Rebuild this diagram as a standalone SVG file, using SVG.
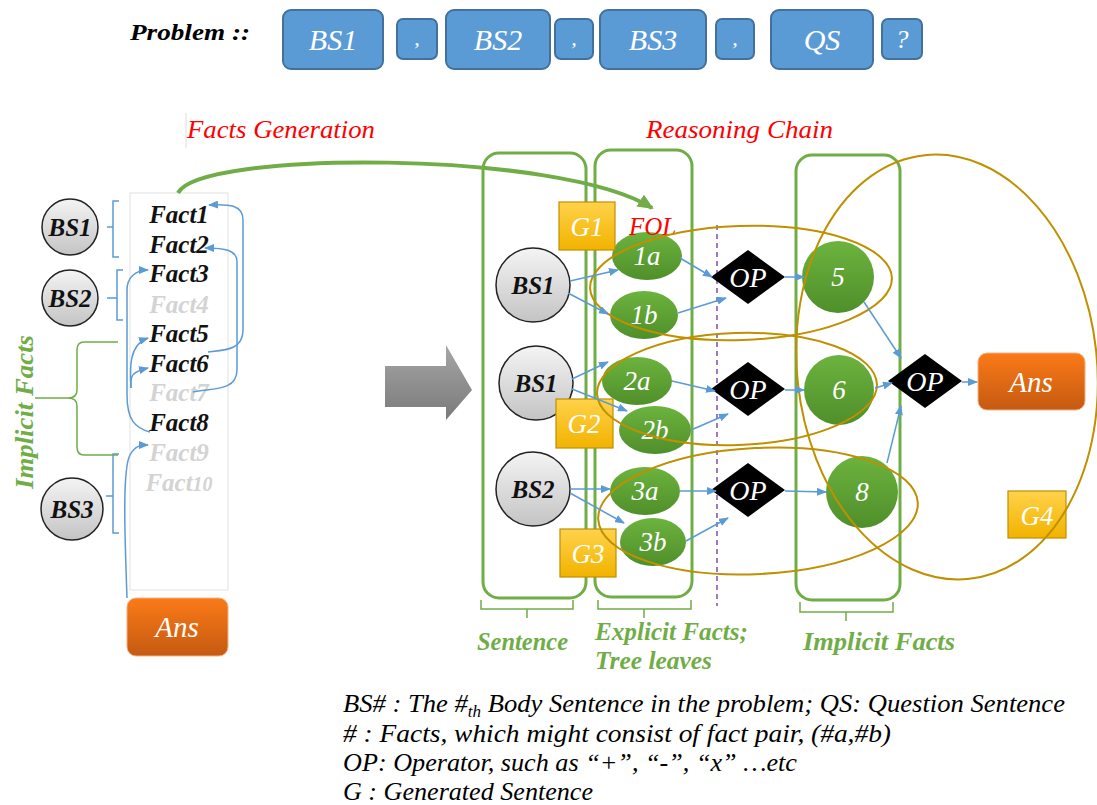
<svg xmlns="http://www.w3.org/2000/svg" width="1097" height="805" viewBox="0 0 1097 805">
<defs>
<linearGradient id="gGray" x1="0" y1="0" x2="0" y2="1"><stop offset="0" stop-color="#f4f4f4"/><stop offset="1" stop-color="#c4c4c4"/></linearGradient>
<linearGradient id="gGreen" x1="0" y1="0" x2="0" y2="1"><stop offset="0" stop-color="#6cb33e"/><stop offset="1" stop-color="#4f8f2a"/></linearGradient>
<linearGradient id="gOrange" x1="0" y1="0" x2="0" y2="1"><stop offset="0" stop-color="#fb7a18"/><stop offset="1" stop-color="#c55a11"/></linearGradient>
<linearGradient id="gYellow" x1="0" y1="0" x2="0" y2="1"><stop offset="0" stop-color="#ffd24a"/><stop offset="1" stop-color="#f2b300"/></linearGradient>
<linearGradient id="gArrow" x1="0" y1="0" x2="0" y2="1"><stop offset="0" stop-color="#a6a6a6"/><stop offset="1" stop-color="#7a7a7a"/></linearGradient>
<marker id="ab" markerWidth="10" markerHeight="8" refX="9" refY="4" orient="auto" markerUnits="userSpaceOnUse"><path d="M0,0 L10,4 L0,8 Z" fill="#5b9bd5"/></marker>
<marker id="ag" markerWidth="16" markerHeight="14" refX="14" refY="7" orient="auto" markerUnits="userSpaceOnUse"><path d="M0,0 L16,7 L0,14 Z" fill="#70ad47"/></marker>
</defs>
<rect width="1097" height="805" fill="#fff"/>

<g id="problem">
<text x="130" y="40" font-family="Liberation Serif" font-style="italic" font-weight="bold" font-size="23" fill="#000" textLength="120" lengthAdjust="spacingAndGlyphs">Problem ::</text>
<g fill="#5b9bd5" stroke="#41719c" stroke-width="2">
<rect x="283" y="10" width="100" height="59" rx="8"/>
<rect x="397" y="19" width="40" height="40" rx="6"/>
<rect x="446" y="10" width="104" height="59" rx="8"/>
<rect x="555" y="19" width="38" height="40" rx="6"/>
<rect x="600" y="10" width="106" height="59" rx="8"/>
<rect x="716" y="19" width="38" height="40" rx="6"/>
<rect x="771" y="10" width="102" height="59" rx="8"/>
<rect x="882" y="19" width="40" height="40" rx="6"/>
</g>
<g fill="#fff" font-size="30" text-anchor="middle">
<text font-family="Liberation Serif" font-style="italic" x="333" y="50">BS1</text>
<text font-family="Liberation Serif" font-style="italic" x="417" y="45" font-size="22">,</text>
<text font-family="Liberation Serif" font-style="italic" x="498" y="50">BS2</text>
<text font-family="Liberation Serif" font-style="italic" x="574" y="45" font-size="22">,</text>
<text font-family="Liberation Serif" font-style="italic" x="653" y="50">BS3</text>
<text font-family="Liberation Serif" font-style="italic" x="735" y="45" font-size="22">,</text>
<text font-family="Liberation Serif" font-style="italic" x="822" y="50">QS</text>
<text font-family="Liberation Serif" font-style="italic" x="902" y="48" font-size="26">?</text>
</g>
</g>

<g id="titles" fill="#ff0000" font-size="25">
<line x1="186" y1="113" x2="186" y2="148" stroke="#ddd" stroke-width="1"/>
<text font-family="Liberation Serif" font-style="italic" x="187" y="138" textLength="188" lengthAdjust="spacingAndGlyphs">Facts Generation</text>
<text font-family="Liberation Serif" font-style="italic" x="646" y="138" textLength="187" lengthAdjust="spacingAndGlyphs">Reasoning Chain</text>
</g>

<g id="left-brackets" fill="none" stroke-width="1.5">
<path stroke="#5b9bd5" d="M119,201 H113 V257 H119 M113,227 H107"/>
<path stroke="#5b9bd5" d="M123,270 H117 V320 H123 M117,298 H107"/>
<path stroke="#5b9bd5" d="M119,454 H113 V533 H119 M113,496 H106"/>
<path stroke="#70ad47" d="M118,342 H84 Q77,342 77,350 V390 Q77,398 68,398 H35 M68,398 Q77,398 77,406 V447 Q77,455 84,455 H118"/>
</g>
<text font-family="Liberation Serif" font-style="italic" font-weight="bold" font-size="25" fill="#70ad47" transform="translate(33,412) rotate(-90)" text-anchor="middle" textLength="154" lengthAdjust="spacingAndGlyphs">Implicit Facts</text>

<g id="bs1-left"><circle cx="70" cy="227" r="28" fill="url(#gGray)" stroke="#222" stroke-width="1.5"/><text font-family="Liberation Serif" font-style="italic" font-weight="bold" font-size="25" text-anchor="middle" fill="#111" x="70" y="236">BS1</text></g>
<g id="bs2-left"><circle cx="70" cy="298" r="28" fill="url(#gGray)" stroke="#222" stroke-width="1.5"/><text font-family="Liberation Serif" font-style="italic" font-weight="bold" font-size="25" text-anchor="middle" fill="#111" x="70" y="307">BS2</text></g>
<g id="bs3-left"><circle cx="72" cy="509" r="31" fill="url(#gGray)" stroke="#222" stroke-width="1.5"/><text font-family="Liberation Serif" font-style="italic" font-weight="bold" font-size="25" text-anchor="middle" fill="#111" x="72" y="518">BS3</text></g>

<g id="facts" font-size="25" font-weight="bold" text-anchor="middle">
<rect x="130" y="193" width="98" height="397" fill="none" stroke="#e2e2e2" stroke-width="1"/>
<text font-family="Liberation Serif" font-style="italic" fill="#111" x="179" y="223">Fact1</text>
<text font-family="Liberation Serif" font-style="italic" fill="#111" x="179" y="253">Fact2</text>
<text font-family="Liberation Serif" font-style="italic" fill="#111" x="179" y="282">Fact3</text>
<text font-family="Liberation Serif" font-style="italic" fill="#d3d3d3" x="179" y="313">Fact4</text>
<text font-family="Liberation Serif" font-style="italic" fill="#111" x="179" y="342">Fact5</text>
<text font-family="Liberation Serif" font-style="italic" fill="#111" x="179" y="372">Fact6</text>
<text font-family="Liberation Serif" font-style="italic" fill="#d3d3d3" x="179" y="401">Fact7</text>
<text font-family="Liberation Serif" font-style="italic" fill="#111" x="179" y="431">Fact8</text>
<text font-family="Liberation Serif" font-style="italic" fill="#d3d3d3" x="179" y="461">Fact9</text>
<text font-family="Liberation Serif" font-style="italic" fill="#d3d3d3" x="179" y="491">Fact<tspan font-size="20">10</tspan></text>
</g>
<g id="ans-left"><rect x="127" y="598" width="101" height="58" rx="9" fill="url(#gOrange)" stroke="#f4b183" stroke-width="1"/><text font-family="Liberation Serif" font-style="italic" font-size="29" fill="#fff" text-anchor="middle" x="177" y="637">Ans</text></g>

<g id="columns">
<g fill="none" stroke="#70ad47" stroke-width="3">
<rect x="483" y="153" width="103" height="445" rx="16"/>
<rect x="595" y="150" width="97" height="447" rx="16"/>
<rect x="796" y="155" width="104" height="445" rx="16"/>
</g>
<g fill="none" stroke="#70ad47" stroke-width="1.5">
<path d="M481,600 V609 H527 V618 M527,609 H573 V600"/>
<path d="M598,600 V609 H644 V618 M644,609 H691 V600"/>
<path d="M800,602 V612 H846 V621 M846,612 H893 V602"/>
</g>
<g fill="#70ad47" font-size="25" font-weight="bold">
<text font-family="Liberation Serif" font-style="italic" x="477" y="650" textLength="91" lengthAdjust="spacingAndGlyphs">Sentence</text>
<text font-family="Liberation Serif" font-style="italic" x="595" y="640" textLength="153" lengthAdjust="spacingAndGlyphs">Explicit Facts;</text>
<text font-family="Liberation Serif" font-style="italic" x="595" y="669" textLength="117" lengthAdjust="spacingAndGlyphs">Tree leaves</text>
<text font-family="Liberation Serif" font-style="italic" x="803" y="650" textLength="152" lengthAdjust="spacingAndGlyphs">Implicit Facts</text>
</g>
<line x1="717" y1="225" x2="717" y2="606" stroke="#7030a0" stroke-width="1.3" stroke-dasharray="5,4"/>
</g>

<g id="bs1-a"><circle cx="533" cy="285" r="37" fill="url(#gGray)" stroke="#222" stroke-width="1.5"/><text font-family="Liberation Serif" font-style="italic" font-weight="bold" font-size="25" text-anchor="middle" fill="#111" x="533" y="294">BS1</text></g>
<g id="bs1-b"><circle cx="536" cy="383" r="37" fill="url(#gGray)" stroke="#222" stroke-width="1.5"/><text font-family="Liberation Serif" font-style="italic" font-weight="bold" font-size="25" text-anchor="middle" fill="#111" x="536" y="392">BS1</text></g>
<g id="bs2-r"><circle cx="533" cy="489" r="37" fill="url(#gGray)" stroke="#222" stroke-width="1.5"/><text font-family="Liberation Serif" font-style="italic" font-weight="bold" font-size="25" text-anchor="middle" fill="#111" x="533" y="498">BS2</text></g>

<g id="n1a"><ellipse cx="647" cy="256" rx="35" ry="24" fill="url(#gGreen)"/><text font-family="Liberation Serif" font-style="italic" font-size="27" fill="#fff" text-anchor="middle" x="647" y="265">1a</text></g>
<g id="n1b"><ellipse cx="644" cy="315" rx="34" ry="24" fill="url(#gGreen)"/><text font-family="Liberation Serif" font-style="italic" font-size="27" fill="#fff" text-anchor="middle" x="644" y="324">1b</text></g>
<g id="n2a"><ellipse cx="637" cy="381" rx="35" ry="24" fill="url(#gGreen)"/><text font-family="Liberation Serif" font-style="italic" font-size="27" fill="#fff" text-anchor="middle" x="637" y="390">2a</text></g>
<g id="n2b"><ellipse cx="655" cy="430" rx="36" ry="24" fill="url(#gGreen)"/><text font-family="Liberation Serif" font-style="italic" font-size="27" fill="#fff" text-anchor="middle" x="655" y="439">2b</text></g>
<g id="n3a"><ellipse cx="645" cy="491" rx="35" ry="24" fill="url(#gGreen)"/><text font-family="Liberation Serif" font-style="italic" font-size="27" fill="#fff" text-anchor="middle" x="645" y="500">3a</text></g>
<g id="n3b"><ellipse cx="653" cy="542" rx="33" ry="24" fill="url(#gGreen)"/><text font-family="Liberation Serif" font-style="italic" font-size="27" fill="#fff" text-anchor="middle" x="653" y="551">3b</text></g>

<g id="n5"><circle cx="838" cy="277" r="36" fill="url(#gGreen)"/><text font-family="Liberation Serif" font-style="italic" font-size="27" fill="#fff" text-anchor="middle" x="838" y="286">5</text></g>
<g id="n6"><circle cx="839" cy="390" r="35" fill="url(#gGreen)"/><text font-family="Liberation Serif" font-style="italic" font-size="27" fill="#fff" text-anchor="middle" x="839" y="399">6</text></g>
<g id="n8"><circle cx="862" cy="492" r="36" fill="url(#gGreen)"/><text font-family="Liberation Serif" font-style="italic" font-size="27" fill="#fff" text-anchor="middle" x="862" y="501">8</text></g>

<g id="op1"><path fill="#000" d="M748,250 L785,277 L748,304 L711,277 Z"/><text font-family="Liberation Serif" font-style="italic" font-size="28" fill="#fff" text-anchor="middle" x="748" y="287">OP</text></g>
<g id="op2"><path fill="#000" d="M748,362 L785,389 L748,416 L711,389 Z"/><text font-family="Liberation Serif" font-style="italic" font-size="28" fill="#fff" text-anchor="middle" x="748" y="399">OP</text></g>
<g id="op3"><path fill="#000" d="M748,463 L785,490 L748,517 L711,490 Z"/><text font-family="Liberation Serif" font-style="italic" font-size="28" fill="#fff" text-anchor="middle" x="748" y="500">OP</text></g>
<g id="op4"><path fill="#000" d="M925,354 L962,381 L925,408 L888,381 Z"/><text font-family="Liberation Serif" font-style="italic" font-size="28" fill="#fff" text-anchor="middle" x="925" y="391">OP</text></g>

<g id="ans-right"><rect x="978" y="353" width="107" height="57" rx="9" fill="url(#gOrange)" stroke="#f4b183" stroke-width="1"/><text font-family="Liberation Serif" font-style="italic" font-size="29" fill="#fff" text-anchor="middle" x="1031" y="392">Ans</text></g>

<g id="g1"><rect x="559" y="202" width="56" height="48" fill="url(#gYellow)" stroke="#bf9000" stroke-width="1.2"/><text font-family="Liberation Serif" font-style="italic" font-size="27" fill="#fff" text-anchor="middle" x="587" y="236">G1</text></g>
<g id="g2"><rect x="556" y="399" width="57" height="49" fill="url(#gYellow)" stroke="#bf9000" stroke-width="1.2"/><text font-family="Liberation Serif" font-style="italic" font-size="27" fill="#fff" text-anchor="middle" x="584" y="433">G2</text></g>
<g id="g3"><rect x="560" y="529" width="56" height="48" fill="url(#gYellow)" stroke="#bf9000" stroke-width="1.2"/><text font-family="Liberation Serif" font-style="italic" font-size="27" fill="#fff" text-anchor="middle" x="588" y="563">G3</text></g>
<g id="g4"><rect x="1008" y="491" width="58" height="47" fill="url(#gYellow)" stroke="#bf9000" stroke-width="1.2"/><text font-family="Liberation Serif" font-style="italic" font-size="27" fill="#fff" text-anchor="middle" x="1037" y="525">G4</text></g>

<text font-family="Liberation Serif" font-style="italic" font-size="25" fill="#ff0000" x="629" y="235">FOL</text>

<g id="groups" fill="none" stroke="#bf9000" stroke-width="2">
<ellipse cx="741" cy="283" rx="151" ry="57" transform="rotate(-2 741 283)"/>
<ellipse cx="737" cy="389" rx="140" ry="56" transform="rotate(-2 737 389)"/>
<ellipse cx="758" cy="511" rx="160" ry="63" transform="rotate(-3 758 511)"/>
<ellipse cx="947" cy="367" rx="150" ry="213" transform="rotate(-6 947 367)"/>
</g>

<g id="connectors">
<path d="M178,193 C200,150 560,150 652,208" fill="none" stroke="#70ad47" stroke-width="4" marker-end="url(#ag)"/>
<path d="M385,366 H446 V345 L472,390 L446,420 V407 H385 Z" fill="url(#gArrow)"/>
<g fill="none" stroke="#5b9bd5" stroke-width="1.5" marker-end="url(#ab)">
<path d="M208,352 C225,350 243,350 243,330 V220 C243,205 230,204 209,205"/>
<path d="M193,392 C210,388 237,392 237,370 V262 C237,250 225,248 205,248"/>
<path d="M127,598 C125,540 122,470 130,455 C135,446 140,445 148,445"/>
<path d="M150,432 C135,428 127,420 127,395 V290 C127,278 135,270 148,270"/>
<path d="M131,388 C130,375 132,372 148,368"/>
<path d="M131,388 C130,370 128,345 148,338"/>
<path d="M570,281 L618,270"/>
<path d="M568,293 L608,314"/>
<path d="M680,258 L712,277"/>
<path d="M678,313 L726,298"/>
<path d="M785,277 L804,277"/>
<path d="M572,379 L608,362"/>
<path d="M572,389 L627,411"/>
<path d="M672,381 L715,391"/>
<path d="M691,430 L728,414"/>
<path d="M785,390 L804,390"/>
<path d="M570,489 L610,489"/>
<path d="M570,493 L624,523"/>
<path d="M680,491 L716,491"/>
<path d="M686,541 L728,518"/>
<path d="M785,491 L826,492"/>
<path d="M864,302 L901,358"/>
<path d="M875,388 L892,383"/>
<path d="M887,463 L901,406"/>
<path d="M962,382 L977,382"/>
</g>
</g>

<g id="legend" fill="#000" font-size="25">
<text font-family="Liberation Serif" font-style="italic" x="343" y="712" textLength="722" lengthAdjust="spacingAndGlyphs">BS# : The #<tspan dy="5" font-size="16">th</tspan><tspan dy="-5"> Body Sentence in the problem; QS: Question Sentence</tspan></text>
<text font-family="Liberation Serif" font-style="italic" x="343" y="742" textLength="548" lengthAdjust="spacingAndGlyphs"># : Facts, which might consist of fact pair, (#a,#b)</text>
<text font-family="Liberation Serif" font-style="italic" x="343" y="771" textLength="454" lengthAdjust="spacingAndGlyphs">OP: Operator, such as &#8220;+&#8221;, &#8220;-&#8221;, &#8220;x&#8221; &#8230;etc</text>
<text font-family="Liberation Serif" font-style="italic" x="343" y="800" textLength="250" lengthAdjust="spacingAndGlyphs">G : Generated Sentence</text>
</g>
</svg>
